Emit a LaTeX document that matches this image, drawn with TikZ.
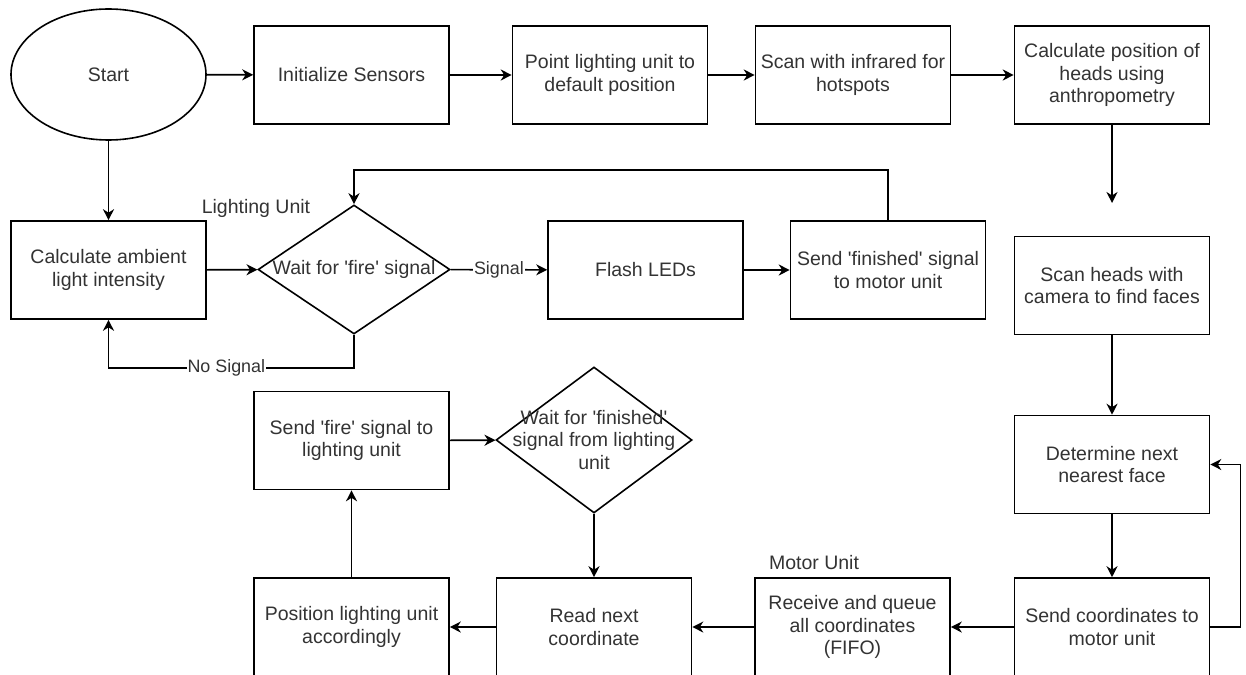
\documentclass[tikz,border=0pt]{standalone}
\usepackage{fontspec}
\setmainfont{Liberation Sans}
\usepackage{tikz}
\usetikzlibrary{shapes.geometric,arrows.meta}

\newcommand{\sq}[1]{\textquotesingle#1\textquotesingle}

\begin{document}
\begin{tikzpicture}[x=1pt, y=-1pt,
    every node/.style={text=black!80, font=\fontsize{19.5}{22.5}\selectfont},
    box/.style={draw=black, line width=1.6pt, rectangle, minimum width=195pt, minimum height=98pt, align=center, inner sep=0pt},
    decision/.style={draw=black, line width=1.6pt, diamond, inner sep=0pt},
    arr/.style={draw=black, line width=1.6pt, -{Stealth[length=11pt, width=11pt, inset=3.5pt]}},
    lbl/.style={fill=white, inner sep=1pt, font=\fontsize{17.9}{21}\selectfont}
]
    \useasboundingbox (0,0) rectangle (1246,674);

    % Top row
    \node[draw=black, line width=1.6pt, ellipse, minimum width=195pt, minimum height=131pt] (start) at (108.5,74.5) {Start};
    \node[box] (init) at (351.5,75) {Initialize Sensors};
    \node[box] (point) at (610,75) {Point lighting unit to\\default position};
    \node[box] (scan) at (853,75) {Scan with infrared for\\hotspots};
    \node[box] (calcpos) at (1112,75) {Calculate position of\\heads using\\anthropometry};
    \coordinate (calcend) at (1112,203);

    % Lighting unit
    \node (lightlbl) at (256,208) {Lighting Unit};
    \node[box] (ambient) at (108.5,270) {Calculate ambient\\light intensity};
    \node[decision, minimum width=192pt, minimum height=129pt,
          label={center:Wait for \sq{fire} signal}] (waitfire) at (354,269.5) {};
    \node[box] (flash) at (645.5,270) {Flash LEDs};
    \node[box] (sendfin) at (888,270) {Send \sq{finished} signal\\to motor unit};

    % Right column
    \node[box] (scanheads) at (1112,285.5) {Scan heads with\\camera to find faces};
    \node[box] (determine) at (1112,464.5) {Determine next\\nearest face};
    \node[box] (sendcoord) at (1112,627) {Send coordinates to\\motor unit};

    % Motor unit
    \node (motorlbl) at (814,563) {Motor Unit};
    \node[box] (receive) at (852.5,627) {Receive and queue\\all coordinates\\(FIFO)};
    \node[box] (readnext) at (594,627) {Read next\\coordinate};
    \node[box] (position) at (351.5,627) {Position lighting unit\\accordingly};
    \node[box] (sendfire) at (351.5,440.5) {Send \sq{fire} signal to\\lighting unit};
    \node[decision, minimum width=196pt, minimum height=146pt,
          label={[align=center]center:Wait for \sq{finished}\\signal from lighting\\unit}] (waitfin) at (594,440) {};

    % Connectors
    \draw[arr] (start) -- (init);
    \draw[arr] (init) -- (point);
    \draw[arr] (point) -- (scan);
    \draw[arr] (scan) -- (calcpos);
    \draw[arr] (calcpos) -- (calcend);
    \draw[arr] (start) -- (ambient);
    \draw[arr] (ambient) -- (waitfire);
    \draw[arr] (waitfire) -- node[lbl] {Signal} (flash);
    \draw[arr] (flash) -- (sendfin);
    \draw[arr] (sendfin.north) -- ++(0,-50) -| (waitfire.north);
    \draw[arr] (waitfire.south) -- ++(0,33) -| node[lbl, pos=0.26] {No Signal} (ambient.south);
    \draw[arr] (scanheads) -- (determine);
    \draw[arr] (determine) -- (sendcoord);
    \draw[arr] (sendcoord.east) -- ++(30,0) |- (determine.east);
    \draw[arr] (sendcoord) -- (receive);
    \draw[arr] (receive) -- (readnext);
    \draw[arr] (readnext) -- (position);
    \draw[arr] (position) -- (sendfire);
    \draw[arr] (sendfire) -- (waitfin);
    \draw[arr] (waitfin) -- (readnext);
\end{tikzpicture}
\end{document}
